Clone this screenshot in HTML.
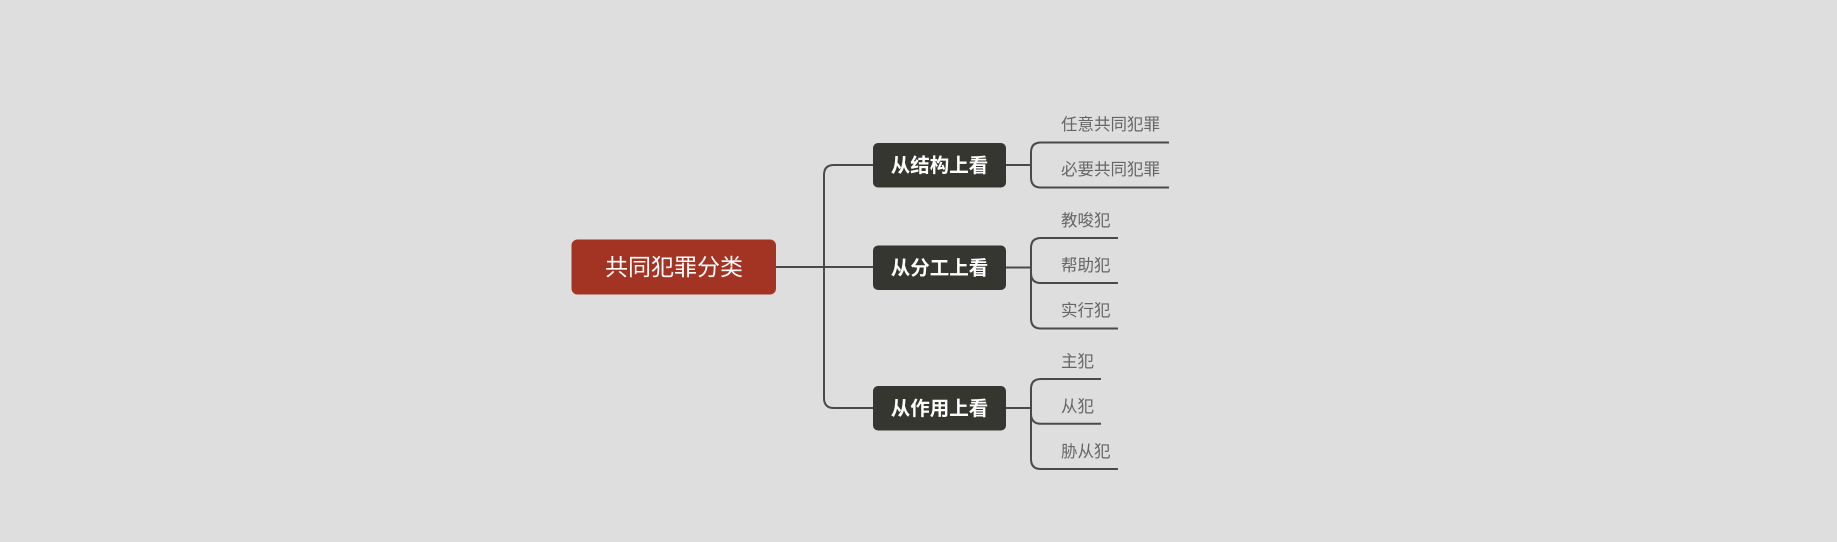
<!DOCTYPE html>
<html><head><meta charset="utf-8"><style>
html,body{margin:0;padding:0;background:#dedede;}
svg{display:block;}
text{font-family:"Liberation Sans","Noto Sans CJK SC",sans-serif;}
</style></head><body>
<svg width="1837" height="542" viewBox="0 0 1837 542" xmlns="http://www.w3.org/2000/svg">
<rect width="1837" height="542" fill="#dedede"/>
<g fill="none" stroke="#4a4a4a" stroke-width="2">
  <path d="M776 267 H873"/>
  <path d="M873 165 H834 Q824 165 824 175 V398 Q824 408 834 408 H873"/>
  <path d="M1006 165 H1031"/>
  <path d="M1169 142.5 H1041 Q1031 142.5 1031 152.5 V177.5 Q1031 187.5 1041 187.5 H1169"/>
  <path d="M1006 267.5 H1031"/>
  <path d="M1118 238 H1041 Q1031 238 1031 248 V318.5 Q1031 328.5 1041 328.5 H1118"/>
  <path d="M1031 273 Q1031 283 1041 283 H1118"/>
  <path d="M1006 408 H1031"/>
  <path d="M1101 379 H1041 Q1031 379 1031 389 V459 Q1031 469 1041 469 H1118"/>
  <path d="M1031 413.7 Q1031 423.7 1041 423.7 H1101"/>
</g>
<rect x="571.5" y="239.5" width="204.5" height="55" rx="6" fill="#a33424"/>
<text x="674" y="275" font-size="23" fill="#fff" text-anchor="middle">共同犯罪分类</text>
<g fill="#363630">
  <rect x="873" y="143" width="133" height="44.5" rx="5"/>
  <rect x="873" y="245.5" width="133" height="44.5" rx="5"/>
  <rect x="873" y="386" width="133" height="44.5" rx="5"/>
</g>
<g font-size="19.5" fill="#fff" text-anchor="middle" font-weight="bold">
  <text x="939.5" y="172">从结构上看</text>
  <text x="939.5" y="274.5">从分工上看</text>
  <text x="939.5" y="415">从作用上看</text>
</g>
<g font-size="16.5" fill="#666">
  <text x="1061" y="130">任意共同犯罪</text>
  <text x="1061" y="175">必要共同犯罪</text>
  <text x="1061" y="226">教唆犯</text>
  <text x="1061" y="271">帮助犯</text>
  <text x="1061" y="316">实行犯</text>
  <text x="1061" y="367">主犯</text>
  <text x="1061" y="412">从犯</text>
  <text x="1061" y="457">胁从犯</text>
</g>
</svg>
</body></html>
